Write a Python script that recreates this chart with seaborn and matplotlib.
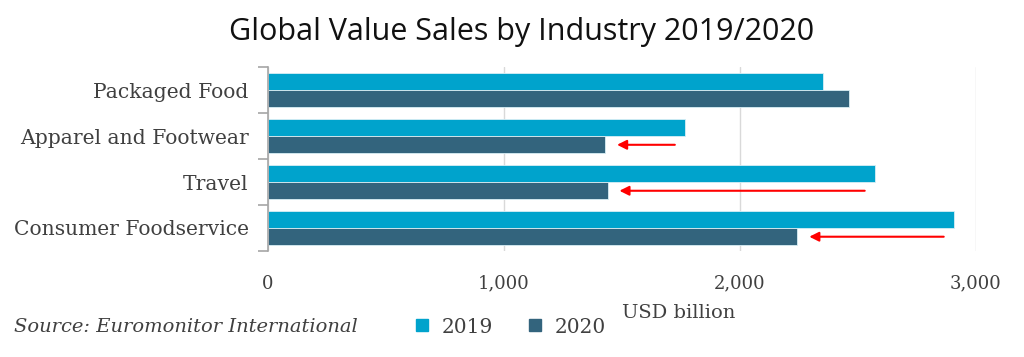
import matplotlib
matplotlib.use("Agg")
import matplotlib.pyplot as plt
import seaborn as sns
import pandas as pd
import numpy as np

# values (USD billion)
industries = ["Packaged Food", "Apparel and Footwear", "Travel", "Consumer Foodservice"]
sales_2019 = [2355, 1770, 2575, 2910]
sales_2020 = [2465, 1430, 1440, 2245]
years = ["2019", "2020"]
# which industries got a red "drop" arrow
arrow_rows = ["Apparel and Footwear", "Travel", "Consumer Foodservice"]

df = pd.DataFrame({
    "industry": industries * 2,
    "year": [years[0]] * len(industries) + [years[1]] * len(industries),
    "sales": sales_2019 + sales_2020,
})

sns.set_theme(style="white")
plt.rcParams["font.family"] = ["DejaVu Serif"]

fig = plt.figure(figsize=(10.24, 3.57), dpi=100)
ax = fig.add_axes([0.2617, 0.297, 0.691, 0.515])

palette = {"2019": "#00A3CC", "2020": "#33647D"}
sns.barplot(data=df, y="industry", x="sales", hue="year", order=industries,
            hue_order=years, palette=palette, orient="h", width=0.75,
            saturation=1, edgecolor="#d8eef5", linewidth=0.6, ax=ax)

ax.set_xlim(0, 3000)
ax.set_xticks([0, 1000, 2000, 3000])
ax.set_xticklabels(["0", "1,000", "2,000", "3,000"], fontsize=13, color="#404040")
ax.tick_params(axis="x", length=0, pad=17)
ax.xaxis.grid(True, color="#d9d9d9", linewidth=1)
ax.set_axisbelow(True)
for s in ["top", "right", "bottom"]:
    ax.spines[s].set_visible(False)
ax.spines["left"].set_color("#a6a6a6")
ax.spines["left"].set_linewidth(1.2)

# category labels centred, tick marks at group boundaries
ax.tick_params(axis="y", which="major", length=0, pad=14, labelsize=14.6, labelcolor="#404040")
ax.set_yticks(np.arange(-0.5, len(industries), 1.0), minor=True)
ax.tick_params(axis="y", which="minor", left=True, length=7, width=1.2,
               color="#a6a6a6", direction="out")
ax.set_ylim(len(industries) - 0.5, -0.5)
ax.set_ylabel("")
ax.set_xlabel("USD billion", fontsize=14, color="#404040")
ax.xaxis.set_label_coords(0.58, -0.34)
ax.xaxis.label.set_va("center")

# red arrows from 2019 level down to 2020 level
for i, name in enumerate(industries):
    if name in arrow_rows:
        a, b = sales_2019[i], sales_2020[i]
        ax.annotate("", xy=(b + 50, i + 0.19), xytext=(a - 45, i + 0.19),
                    arrowprops=dict(arrowstyle="-|>", color="red", lw=1.5,
                                    mutation_scale=14, shrinkA=0, shrinkB=0))

ax.legend_.remove()
handles = [plt.Line2D([], [], marker="s", linestyle="", markersize=8,
                      color=palette[y]) for y in years]
fig.legend(handles, years, loc="center", bbox_to_anchor=(0.492, 0.084), ncol=2,
           frameon=False, handletextpad=0.0, columnspacing=1.05,
           prop={"family": "DejaVu Serif", "size": 14.5}, labelcolor="#404040")

fig.text(0.0137, 0.084, "Source: Euromonitor International", fontsize=14,
         style="italic", color="#404040", va="center", family="DejaVu Serif")

fig.suptitle("Global Value Sales by Industry 2019/2020", x=0.509, y=0.91,
             fontsize=22, family="Open Sans", color="#111111", va="center")

fig.savefig("out.png", dpi=100)
